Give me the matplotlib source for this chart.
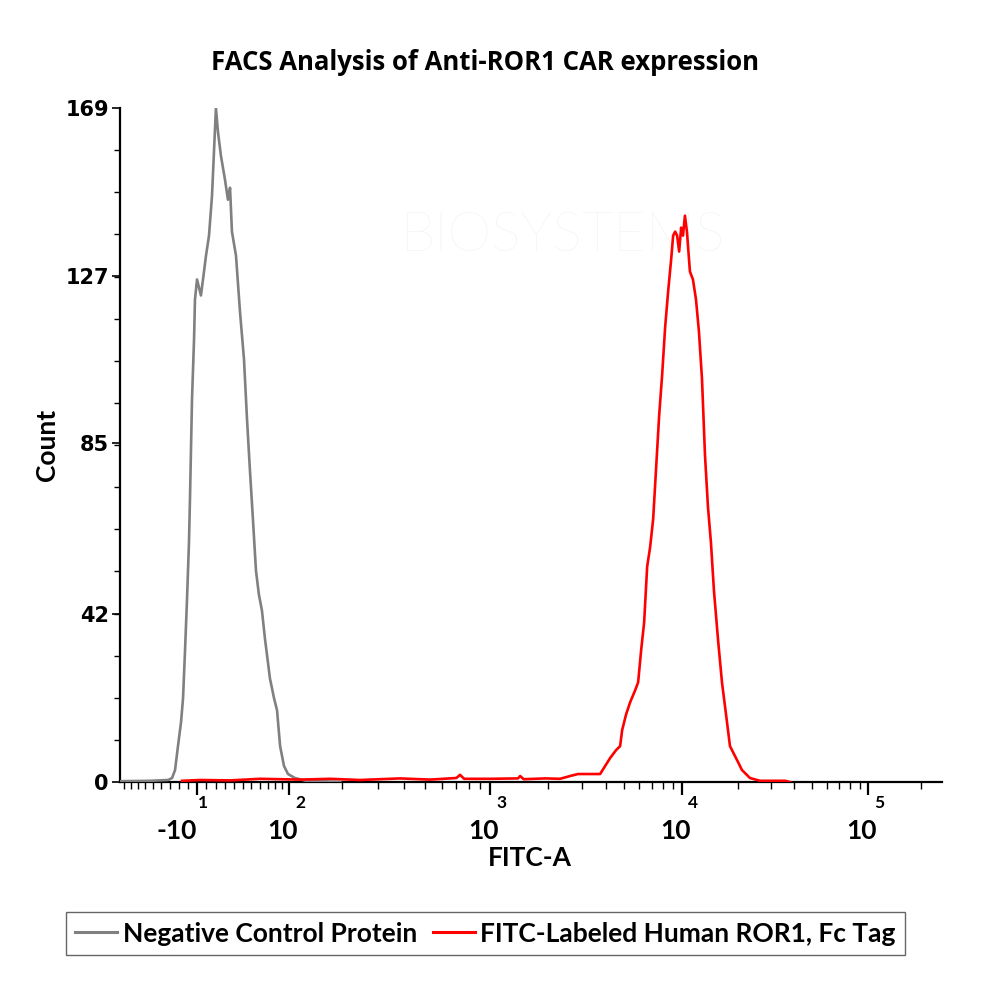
import numpy as np
import matplotlib
matplotlib.use("Agg")
import matplotlib.pyplot as plt
from matplotlib.lines import Line2D

# ---------------- data ----------------
title = "FACS Analysis of Anti-ROR1 CAR expression"
x_label = "FITC-A"
y_label = "Count"
series_names = ["Negative Control Protein", "FITC-Labeled Human ROR1, Fc Tag"]
series_colors = ["#808080", "#ff0000"]

y_ticks = [0, 42, 85, 127, 169]
x_major = [-10, 100, 1000, 10000, 100000]
x_major_base = ["-10", "10", "10", "10", "10"]
x_major_exp = ["1", "2", "3", "4", "5"]

neg_fitc = [-106, -63.8, -42.1, -37.5, -34.1, -30.8, -27.4, -25.2, -23.0, -20.8,
            -18.7, -17.6, -15.4, -13.2, -12.2, -10.0, -7.9, -5.8, -3.6, -0.4,
            2.8, 6.0, 8.1, 10.2, 12.4, 15.6, 20.0, 23.2, 25.5, 27.6,
            32.1, 36.6, 41.2, 44.7, 48.2, 51.7, 55.4, 59.0, 62.8, 66.6,
            73.1, 78.6, 82.7, 87.0, 92.6, 98.5, 109, 127, 155, 195]
neg_count = [0.2, 0.3, 0.5, 1, 3, 9, 15, 21, 33, 46,
             60, 71, 96, 111, 121, 126, 124, 122, 126, 132,
             137, 147, 158, 169, 163, 157, 151, 146, 149, 138,
             132, 118, 106, 91, 78, 66, 53, 47, 43, 36,
             26, 21, 18, 9, 4, 2, 1, 0.3, 0.2, 0]

ror1_fitc = [-26.3, -6.8, 25.5, 60.2, 116.8, 173, 245, 382, 529, 700, 728, 760,
             1000, 1400, 1437, 1500, 1940, 2320, 2616, 2878, 3324, 3749,
             3980, 4226, 4541, 4765, 4881, 5121, 5373, 5705, 5913, 6128,
             6353, 6588, 6830, 7080, 7339, 7608, 7881, 8170, 8470, 8780,
             8994, 9212, 9433, 9664, 9899, 10120, 10370, 10630, 11030, 11450,
             11890, 12330, 12810, 13290, 13790, 14310, 14850, 15600, 16400, 17240,
             18110, 19030, 20010, 21010, 22070, 23200, 26250, 35800, 38080]
ror1_count = [0.3, 0.5, 0.4, 0.8, 0.6, 0.8, 0.5, 0.9, 0.6, 1.0, 1.8, 0.8,
              0.8, 0.9, 1.5, 0.7, 0.9, 0.8, 1.5, 2, 2, 2,
              4, 6, 8, 9, 13, 17, 20, 23, 25, 33,
              40, 54, 59, 66, 79, 92, 102, 114, 123, 131,
              137, 138, 137, 133, 139, 137, 142, 138, 128, 126,
              121, 113, 101, 82, 69, 60, 48, 36, 25, 17,
              9, 7, 5, 3, 2, 1, 0.3, 0.3, 0]

# ---------------- biexponential-like x scale ----------------
ANCHOR_V = np.array([-300, -106, -10, 100, 1000, 1e4, 1e5, 262144, 1e6])
ANCHOR_P = np.array([-0.102, 0.0, 0.0937, 0.2056, 0.4501, 0.6837, 0.9100, 1.0, 1.136])
ANCHOR_T = np.arcsinh(ANCHOR_V / 100.0)


def fwd(v):
    return np.interp(np.arcsinh(np.asarray(v, dtype=float) / 100.0), ANCHOR_T, ANCHOR_P)


def inv(p):
    return 100.0 * np.sinh(np.interp(np.asarray(p, dtype=float), ANCHOR_P, ANCHOR_T))


# ---------------- figure ----------------
fig = plt.figure(figsize=(10, 9.99), dpi=100)
ax = fig.add_axes([0.12, (999 - 782) / 999, 0.822, (782 - 108) / 999])
ax.set_xscale("function", functions=(fwd, inv))
ax.set_xlim(-106, 262144)
ax.set_ylim(0, 169)

# faint watermark
ax.text(0.539, 0.81, "BIOSYSTEMS", transform=ax.transAxes, fontsize=40, color="#f1f1f1",
        family="Lato", weight="light", ha="center", va="center", zorder=0.5)

ax.plot(neg_fitc, neg_count, color=series_colors[0], lw=1.9, zorder=3)
ax.plot(ror1_fitc, ror1_count, color=series_colors[1], lw=1.9, zorder=3)

for s in ["top", "right"]:
    ax.spines[s].set_visible(False)
for s in ["left", "bottom"]:
    ax.spines[s].set_linewidth(1.6)

# y ticks
ax.set_yticks(y_ticks)
ax.set_yticks(np.arange(0, 169, 169 / 16), minor=True)
ax.tick_params(axis="y", which="major", length=6, width=1.2, labelsize=15, pad=2)
ax.tick_params(axis="y", which="minor", length=4, width=1.0)
for lab in ax.get_yticklabels():
    lab.set_fontweight("bold")
    lab.set_family("DejaVu Sans")

# x ticks
minor = (list(range(-100, -10, 10)) + list(range(0, 100, 10)) +
         list(range(200, 1000, 100)) + list(range(2000, 10000, 1000)) +
         list(range(20000, 100000, 10000)) + [200000])
ax.set_xticks(x_major)
ax.set_xticks(minor, minor=True)
ax.set_xticklabels([""] * len(x_major))
ax.tick_params(axis="x", which="major", length=9, width=1.6)
ax.tick_params(axis="x", which="minor", length=5, width=1.0)

for v, base, ex in zip(x_major, x_major_base, x_major_exp):
    if base.startswith("-"):
        bx, bha, ex_x = 0, "right", 4
    else:
        bx, bha, ex_x = -5, "center", 8
    ax.annotate(base, xy=(v, 0), xycoords=("data", "axes fraction"),
                xytext=(bx, -35), textcoords="offset points", ha=bha, va="center",
                fontsize=19, fontweight="bold", family="Lato")
    ax.annotate(ex, xy=(v, 0), xycoords=("data", "axes fraction"),
                xytext=(ex_x, -15), textcoords="offset points", ha="center", va="center",
                fontsize=12.5, fontweight="bold", family="Lato")

fig.text(0.530, 1 - 858 / 999, x_label, fontsize=19, fontweight="bold",
         family="Lato", ha="center", va="center")
fig.text(0.047, 1 - 445 / 999, y_label, fontsize=19, fontweight="bold",
         family="Lato", ha="center", va="center", rotation=90)
fig.text(0.485, 1 - 63 / 999, title, fontsize=18.5, fontweight="bold",
         family="Open Sans", ha="center", va="center")

handles = [Line2D([], [], color=c, lw=2.2) for c in series_colors]
leg = fig.legend(handles, series_names, loc="center", bbox_to_anchor=(0.4855, 1 - 933.5 / 999),
                 ncol=2, frameon=True, fancybox=False, handlelength=1.6, handletextpad=0.2,
                 columnspacing=0.6, borderpad=0.35, prop={"family": "Lato", "weight": "bold", "size": 19})
leg.get_frame().set_edgecolor("#404040")
leg.get_frame().set_linewidth(1.0)

fig.savefig("out.png", dpi=100)
